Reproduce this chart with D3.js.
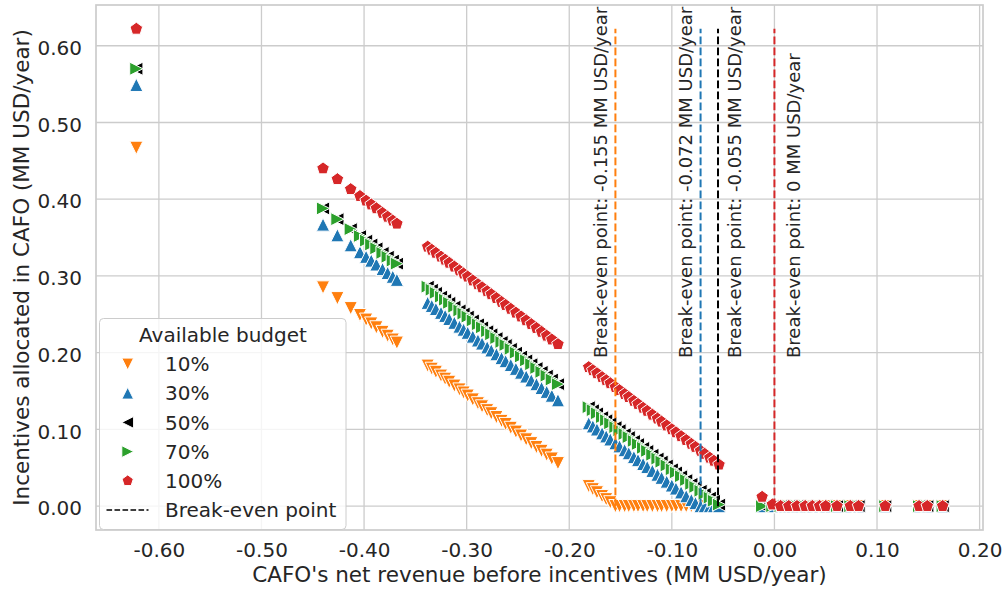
<!DOCTYPE html>
<html>
<head>
<meta charset="utf-8">
<script src="https://cdn.jsdelivr.net/npm/d3@7"></script>
<style>
  body { margin: 0; background: #ffffff; }
  text { font-family: "DejaVu Sans", sans-serif; fill: #262626; }
</style>
</head>
<body>
<svg id="chart" width="1006" height="594"></svg>
<script>
// CAFO net revenue before incentives (MM USD/year), one entry per CAFO
const revenue = [
  -0.622,
  -0.440, -0.426, -0.413, -0.404, -0.398, -0.393, -0.388, -0.382, -0.377, -0.372, -0.368,
  -0.338, -0.334, -0.330, -0.325, -0.321, -0.317, -0.312, -0.307, -0.303, -0.299, -0.294, -0.289, -0.285, -0.280,
  -0.276, -0.271, -0.266, -0.262, -0.257, -0.252, -0.247, -0.242, -0.237, -0.232, -0.227, -0.222, -0.217, -0.211,
  -0.181, -0.177, -0.173, -0.168, -0.164, -0.160, -0.155, -0.151, -0.146, -0.142, -0.137, -0.133, -0.128, -0.124,
  -0.119, -0.114, -0.110, -0.105, -0.100, -0.096, -0.091, -0.086, -0.081, -0.077, -0.072, -0.068, -0.063, -0.059, -0.054,
  -0.012, -0.002, 0.006, 0.014, 0.022, 0.030, 0.037, 0.044, 0.050, 0.061, 0.074, 0.082, 0.108, 0.141, 0.149, 0.164
];

// Incentives allocated in each CAFO (MM USD/year) for each available budget
const incentive10 = [
  0.467,
  0.285, 0.271, 0.258, 0.249, 0.243, 0.238, 0.233, 0.227, 0.222, 0.217, 0.213,
  0.183, 0.179, 0.175, 0.170, 0.166, 0.162, 0.157, 0.152, 0.148, 0.144, 0.139, 0.134, 0.130, 0.125,
  0.121, 0.116, 0.111, 0.107, 0.102, 0.097, 0.092, 0.087, 0.082, 0.077, 0.072, 0.067, 0.062, 0.056,
  0.026, 0.022, 0.018, 0.013, 0.009, 0.005, 0, 0, 0, 0, 0, 0, 0, 0,
  0, 0, 0, 0, 0, 0, 0, 0, 0, 0, 0, 0, 0, 0, 0,
  0, 0, 0, 0, 0, 0, 0, 0, 0, 0, 0, 0, 0, 0, 0, 0
];
const incentive30 = [
  0.549,
  0.367, 0.353, 0.340, 0.331, 0.325, 0.320, 0.315, 0.309, 0.304, 0.299, 0.295,
  0.265, 0.261, 0.257, 0.252, 0.248, 0.244, 0.239, 0.234, 0.230, 0.226, 0.221, 0.216, 0.212, 0.207,
  0.203, 0.198, 0.193, 0.189, 0.184, 0.179, 0.174, 0.169, 0.164, 0.159, 0.154, 0.149, 0.144, 0.138,
  0.108, 0.104, 0.100, 0.095, 0.091, 0.087, 0.082, 0.078, 0.073, 0.069, 0.064, 0.060, 0.055, 0.051,
  0.046, 0.041, 0.037, 0.032, 0.027, 0.023, 0.018, 0.013, 0.008, 0.004, 0, 0, 0, 0, 0,
  0, 0, 0, 0, 0, 0, 0, 0, 0, 0, 0, 0, 0, 0, 0, 0
];
const incentive50 = [
  0.570,
  0.388, 0.374, 0.361, 0.352, 0.346, 0.341, 0.336, 0.330, 0.325, 0.320, 0.316,
  0.286, 0.282, 0.278, 0.273, 0.269, 0.265, 0.260, 0.255, 0.251, 0.247, 0.242, 0.237, 0.233, 0.228,
  0.224, 0.219, 0.214, 0.210, 0.205, 0.200, 0.195, 0.190, 0.185, 0.180, 0.175, 0.170, 0.165, 0.159,
  0.129, 0.125, 0.121, 0.116, 0.112, 0.108, 0.103, 0.099, 0.094, 0.090, 0.085, 0.081, 0.076, 0.072,
  0.067, 0.062, 0.058, 0.053, 0.048, 0.044, 0.039, 0.034, 0.029, 0.025, 0.020, 0.016, 0.011, 0.007, 0.002,
  0, 0, 0, 0, 0, 0, 0, 0, 0, 0, 0, 0, 0, 0, 0, 0
];
const incentive70 = [
  0.570,
  0.388, 0.374, 0.361, 0.352, 0.346, 0.341, 0.336, 0.330, 0.325, 0.320, 0.316,
  0.286, 0.282, 0.278, 0.273, 0.269, 0.265, 0.260, 0.255, 0.251, 0.247, 0.242, 0.237, 0.233, 0.228,
  0.224, 0.219, 0.214, 0.210, 0.205, 0.200, 0.195, 0.190, 0.185, 0.180, 0.175, 0.170, 0.165, 0.159,
  0.129, 0.125, 0.121, 0.116, 0.112, 0.108, 0.103, 0.099, 0.094, 0.090, 0.085, 0.081, 0.076, 0.072,
  0.067, 0.062, 0.058, 0.053, 0.048, 0.044, 0.039, 0.034, 0.029, 0.025, 0.020, 0.016, 0.011, 0.007, 0.002,
  0, 0, 0, 0, 0, 0, 0, 0, 0, 0, 0, 0, 0, 0, 0, 0
];
const incentive100 = [
  0.622,
  0.440, 0.426, 0.413, 0.404, 0.398, 0.393, 0.388, 0.382, 0.377, 0.372, 0.368,
  0.338, 0.334, 0.330, 0.325, 0.321, 0.317, 0.312, 0.307, 0.303, 0.299, 0.294, 0.289, 0.285, 0.280,
  0.276, 0.271, 0.266, 0.262, 0.257, 0.252, 0.247, 0.242, 0.237, 0.232, 0.227, 0.222, 0.217, 0.211,
  0.181, 0.177, 0.173, 0.168, 0.164, 0.160, 0.155, 0.151, 0.146, 0.142, 0.137, 0.133, 0.128, 0.124,
  0.119, 0.114, 0.110, 0.105, 0.100, 0.096, 0.091, 0.086, 0.081, 0.077, 0.072, 0.068, 0.063, 0.059, 0.054,
  0.012, 0.002, 0, 0, 0, 0, 0, 0, 0, 0, 0, 0, 0, 0, 0, 0
];

const budgetLabels = ["10%", "30%", "50%", "70%", "100%"];
const breakEvenPoints = [-0.155, -0.072, -0.055, 0];
const xTicks = [-0.6, -0.5, -0.4, -0.3, -0.2, -0.1, 0.0, 0.1, 0.2];
const yTicks = [0.0, 0.1, 0.2, 0.3, 0.4, 0.5, 0.6];

const xTitle = "CAFO's net revenue before incentives (MM USD/year)";
const yTitle = "Incentives allocated in CAFO (MM USD/year)";
const legendTitle = "Available budget";
const breakEvenLegend = "Break-even point";

// ---- layout & styles ----
const plot = { left: 96, right: 983, top: 5, bottom: 530 };
const gridColor = "#cccccc";
const seriesStyle = [
  { color: "#ff7f0e", shape: "down" },
  { color: "#1f77b4", shape: "up" },
  { color: "#000000", shape: "left" },
  { color: "#2ca02c", shape: "right" },
  { color: "#d62728", shape: "pentagon" }
];
const breakEvenColors = ["#ff7f0e", "#1f77b4", "#000000", "#d62728"];
const breakEvenTextShift = [-8.5, -8.5, 22.5, 25.5];

const series = [incentive10, incentive30, incentive50, incentive70, incentive100].map((vals, i) => ({
  label: budgetLabels[i],
  values: vals,
  ...seriesStyle[i]
}));

// padded extents (5% on each side)
function padded(ext) {
  const p = (ext[1] - ext[0]) * 0.05;
  return [ext[0] - p, ext[1] + p];
}
const xDomain = padded(d3.extent(revenue));
const yDomain = padded(d3.extent(series.flatMap(s => s.values)));

const x = d3.scaleLinear().domain(xDomain).range([plot.left, plot.right]);
const y = d3.scaleLinear().domain(yDomain).range([plot.bottom, plot.top]);

function markerPath(shape, r) {
  switch (shape) {
    case "down": return `M0,${r}L${-r},${-r}L${r},${-r}Z`;
    case "up": return `M0,${-r}L${-r},${r}L${r},${r}Z`;
    case "left": return `M${-r},0L${r},${-r}L${r},${r}Z`;
    case "right": return `M${r},0L${-r},${-r}L${-r},${r}Z`;
    default: {
      const pts = d3.range(5).map(k => {
        const a = -Math.PI / 2 + k * 2 * Math.PI / 5;
        return [r * Math.cos(a), r * Math.sin(a)];
      });
      return "M" + pts.map(p => p.join(",")).join("L") + "Z";
    }
  }
}

const svg = d3.select("#chart");
svg.append("rect").attr("width", 1006).attr("height", 594).attr("fill", "#ffffff");

// grid
const grid = svg.append("g");
grid.selectAll("line.gx").data(xTicks).join("line")
  .attr("x1", d => x(d)).attr("x2", d => x(d))
  .attr("y1", plot.top).attr("y2", plot.bottom)
  .attr("stroke", gridColor).attr("stroke-width", 1.3);
grid.selectAll("line.gy").data(yTicks).join("line")
  .attr("x1", plot.left).attr("x2", plot.right)
  .attr("y1", d => y(d)).attr("y2", d => y(d))
  .attr("stroke", gridColor).attr("stroke-width", 1.3);

// axes (labels only, no tick marks)
const xAxis = svg.append("g")
  .attr("transform", `translate(0,${plot.bottom})`)
  .call(d3.axisBottom(x).tickValues(xTicks).tickSize(0).tickPadding(12.8)
    .tickFormat(d => d.toFixed(2)));
const yAxis = svg.append("g")
  .attr("transform", `translate(${plot.left},0)`)
  .call(d3.axisLeft(y).tickValues(yTicks).tickSize(0).tickPadding(14)
    .tickFormat(d => d.toFixed(2)));
[xAxis, yAxis].forEach(g => {
  g.select(".domain").remove();
  g.attr("font-family", null).attr("font-size", null);
  g.selectAll("text").attr("font-size", "20px").attr("fill", "#262626");
});
yAxis.selectAll("text").attr("dy", "0.43em");

// scatter points
const pts = svg.append("g");
series.forEach(s => {
  pts.append("g").selectAll("path").data(s.values).join("path")
    .attr("d", markerPath(s.shape, 6.6))
    .attr("transform", (v, i) => `translate(${x(revenue[i])},${y(v)})`)
    .attr("fill", s.color)
    .attr("stroke", "#ffffff")
    .attr("stroke-width", 1);
});

// break-even lines and labels
const yTop = d3.max(incentive100);
const be = svg.append("g");
breakEvenPoints.forEach((v, i) => {
  be.append("line")
    .attr("x1", x(v)).attr("x2", x(v))
    .attr("y1", y(0)).attr("y2", y(yTop))
    .attr("stroke", breakEvenColors[i])
    .attr("stroke-width", 2)
    .attr("stroke-dasharray", "7.7,3.3");
  be.append("text")
    .attr("transform", `translate(${x(v) + breakEvenTextShift[i]},358) rotate(-90)`)
    .attr("font-size", "18px")
    .text(`Break-even point: ${v} MM USD/year`);
});

// frame
svg.append("rect")
  .attr("x", plot.left).attr("y", plot.top)
  .attr("width", plot.right - plot.left).attr("height", plot.bottom - plot.top)
  .attr("fill", "none").attr("stroke", gridColor).attr("stroke-width", 1.7);

// axis titles
svg.append("text")
  .attr("x", (plot.left + plot.right) / 2).attr("y", 582)
  .attr("text-anchor", "middle").attr("font-size", "21.5px")
  .text(xTitle);
svg.append("text")
  .attr("transform", `translate(29,${(plot.top + plot.bottom) / 2}) rotate(-90)`)
  .attr("text-anchor", "middle").attr("font-size", "21.5px")
  .text(yTitle);

// legend
const lg = svg.append("g");
lg.append("rect")
  .attr("x", 99.5).attr("y", 318.5).attr("width", 246.5).attr("height", 211)
  .attr("rx", 4).attr("fill", "#ffffff").attr("fill-opacity", 0.8)
  .attr("stroke", gridColor).attr("stroke-width", 1);
lg.append("text")
  .attr("x", 223).attr("y", 341.5).attr("text-anchor", "middle")
  .attr("font-size", "20px").text(legendTitle);
const rowY = i => 364 + i * 29.2;
series.forEach((s, i) => {
  lg.append("path")
    .attr("d", markerPath(s.shape, 5.9))
    .attr("transform", `translate(127.7,${rowY(i)})`)
    .attr("fill", s.color).attr("stroke", "#ffffff").attr("stroke-width", 1);
  lg.append("text")
    .attr("x", 165).attr("y", rowY(i) + 7.2)
    .attr("font-size", "20px").text(s.label);
});
lg.append("line")
  .attr("x1", 106.5).attr("x2", 148.5)
  .attr("y1", rowY(5)).attr("y2", rowY(5))
  .attr("stroke", "#000000").attr("stroke-width", 1.5)
  .attr("stroke-dasharray", "5.6,2.4");
lg.append("text")
  .attr("x", 165).attr("y", rowY(5) + 7.2)
  .attr("font-size", "20px").text(breakEvenLegend);
</script>
</body>
</html>
